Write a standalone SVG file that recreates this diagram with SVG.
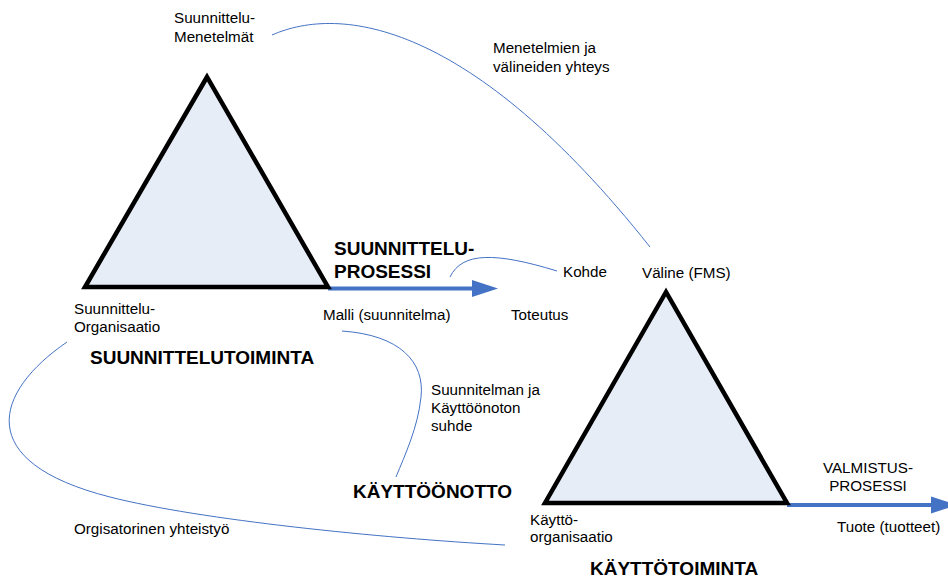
<svg xmlns="http://www.w3.org/2000/svg" width="948" height="579" viewBox="0 0 948 579">
  <style>
    .tri { fill: #E7EDF7; stroke: #000; stroke-width: 4.5; stroke-linejoin: miter; }
    .t { font-family: "Liberation Sans", Arial, sans-serif; font-size: 15.2px; fill: #000; }
    .b { font-family: "Liberation Sans", Arial, sans-serif; font-size: 19px; font-weight: bold; fill: #000; }
    .link { fill: none; stroke: #4472C4; stroke-width: 1; }
    .flow { fill: none; stroke: #4472C4; stroke-width: 4; }
    .head { fill: #4472C4; }
  </style>

  <rect width="948" height="579" fill="#fff"/>

  <!-- relation curves -->
  <g id="connectors">
    <path class="link" d="M272,35 C340,5 470,20 650,247"/>
    <path class="link" d="M450,277 C462,252 495,252 557,271"/>
    <path class="link" d="M342,331 C400,335 425,362 421,397 C418,427 405,455 396,477"/>
    <path class="link" d="M67,342 C-6,392 -28,462 110,497 C200,520 380,538 505,545"/>
    <!-- process arrows -->
    <path class="flow" d="M328,288.5 H474"/>
    <polygon class="head" points="472,280 498,288.5 472,297"/>
    <path class="flow" d="M787,505 H933"/>
    <polygon class="head" points="931,496.5 957,505 931,513.5"/>
  </g>

  <!-- design activity -->
  <g id="suunnittelutoiminta">
    <polygon class="tri" points="207,77 85,287 328,287"/>
    <text class="b" x="90" y="364">SUUNNITTELUTOIMINTA</text>
    <text class="t" x="74" y="314">Suunnittelu-</text>
    <text class="t" x="74" y="332">Organisaatio</text>
  </g>

  <g id="menetelmat">
    <text class="t" x="174" y="23">Suunnittelu-</text>
    <text class="t" x="174" y="42">Menetelmät</text>
  </g>

  <g id="suunnitteluprosessi">
    <text class="b" x="334" y="255">SUUNNITTELU-</text>
    <text class="b" x="334" y="278">PROSESSI</text>
    <text class="t" x="323" y="320">Malli (suunnitelma)</text>
    <text class="t" x="511" y="320">Toteutus</text>
    <text class="t" x="563" y="277">Kohde</text>
  </g>

  <g id="yhteys-label">
    <text class="t" x="493" y="53">Menetelmien ja</text>
    <text class="t" x="493" y="72">välineiden yhteys</text>
  </g>

  <g id="suhde-label">
    <text class="t" x="431" y="395">Suunnitelman ja</text>
    <text class="t" x="431" y="413">Käyttöönoton</text>
    <text class="t" x="431" y="431">suhde</text>
  </g>

  <g id="kayttoonotto">
    <text class="b" x="353" y="498">KÄYTTÖÖNOTTO</text>
  </g>

  <g id="yhteistyo-label">
    <text class="t" x="74" y="534">Orgisatorinen yhteistyö</text>
  </g>

  <!-- operating activity -->
  <g id="kayttotoiminta">
    <polygon class="tri" points="666,292 545,503 787,503"/>
    <text class="t" x="642" y="278">Väline (FMS)</text>
    <text class="t" x="530" y="525">Käyttö-</text>
    <text class="t" x="530" y="542">organisaatio</text>
    <text class="b" x="590" y="575">KÄYTTÖTOIMINTA</text>
  </g>

  <g id="valmistusprosessi">
    <text class="t" x="868" y="473" text-anchor="middle">VALMISTUS-</text>
    <text class="t" x="868" y="491" text-anchor="middle">PROSESSI</text>
    <text class="t" x="837" y="532">Tuote (tuotteet)</text>
  </g>
</svg>
